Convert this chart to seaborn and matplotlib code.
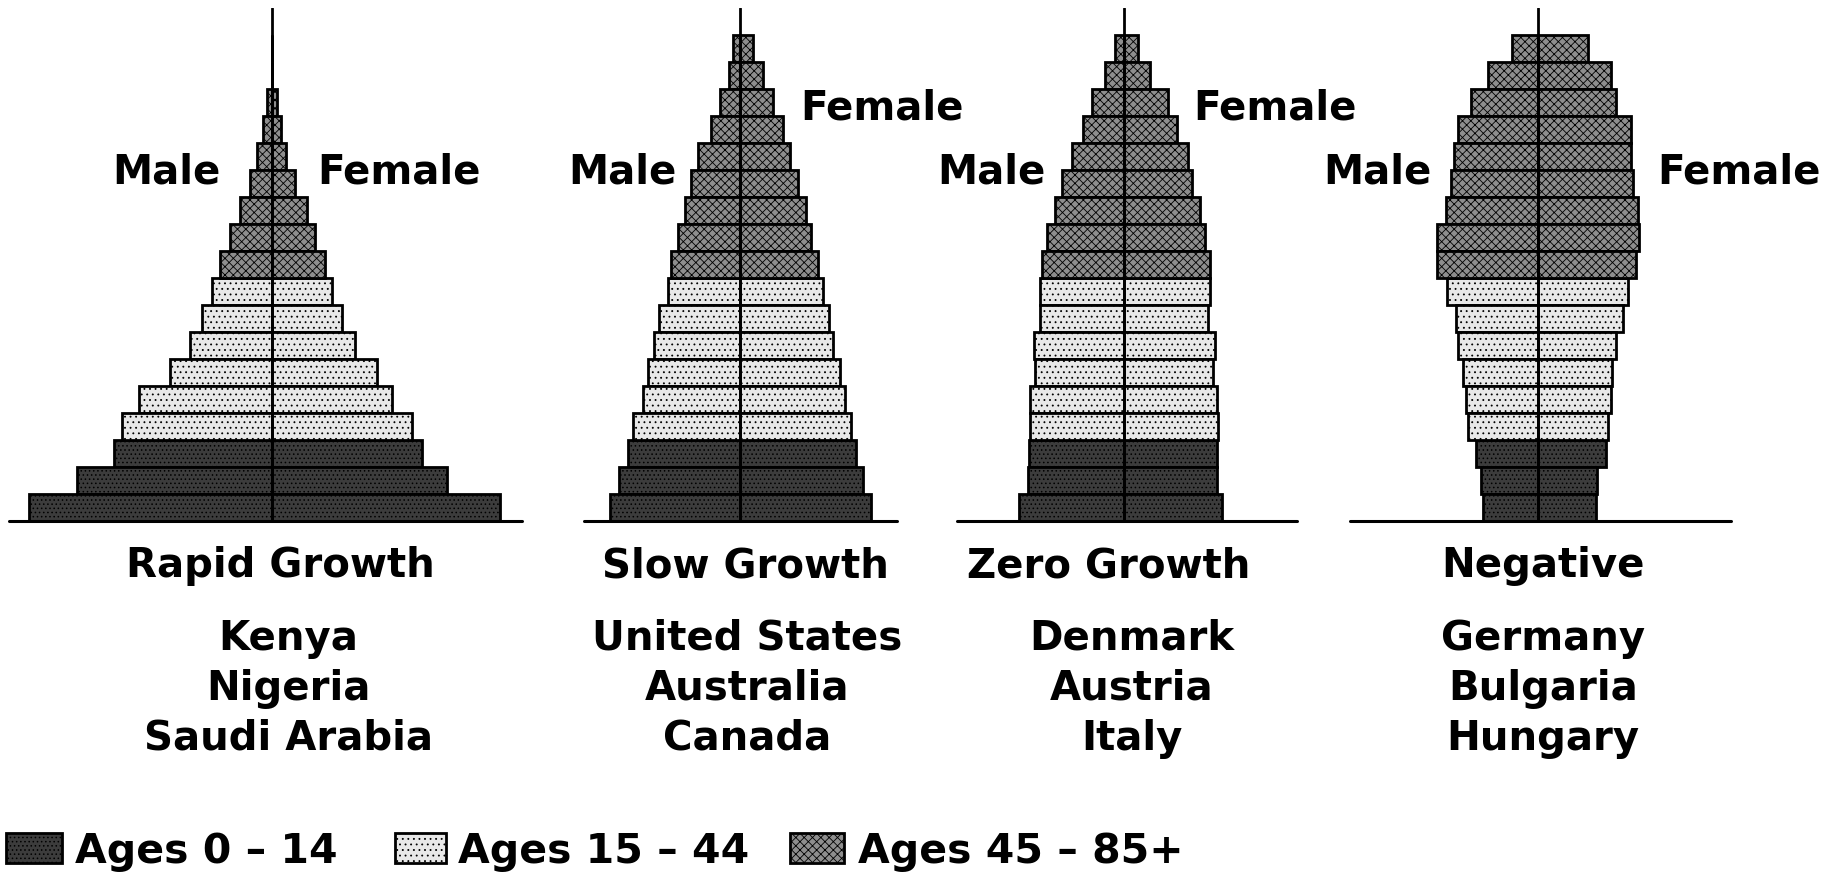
import pandas as pd
import seaborn as sns
import matplotlib.pyplot as plt
from matplotlib.patches import Rectangle

sns.set_theme(style="white")
plt.rcParams['font.family'] = ['DejaVu Sans']
plt.rcParams['text.color'] = 'black'
plt.rcParams['hatch.linewidth'] = 0.6

# age groups, bottom (0-4) to top (85+)
ages = ['0-4', '5-9', '10-14', '15-19', '20-24', '25-29', '30-34', '35-39', '40-44',
        '45-49', '50-54', '55-59', '60-64', '65-69', '70-74', '75-79', '80-84', '85+']
groups = ['Ages 0 – 14'] * 3 + ['Ages 15 – 44'] * 6 + ['Ages 45 – 85+'] * 9

# share of population per sex (%)
rapid_male = [9.7, 7.8, 6.3, 6.0, 5.3, 4.1, 3.3, 2.8, 2.4, 2.1, 1.7, 1.3, 0.9, 0.6, 0.35, 0.2, 0, 0]
rapid_female = [9.1, 7.0, 6.0, 5.6, 4.8, 4.2, 3.3, 2.8, 2.4, 2.1, 1.7, 1.4, 0.9, 0.55, 0.35, 0.2, 0, 0]
slow_male = [5.2, 4.85, 4.5, 4.3, 3.9, 3.7, 3.45, 3.25, 2.9, 2.75, 2.5, 2.2, 1.95, 1.7, 1.15, 0.8, 0.45, 0.3]
slow_female = [5.25, 4.9, 4.65, 4.45, 4.2, 4.0, 3.7, 3.55, 3.3, 3.1, 2.85, 2.65, 2.3, 2.0, 1.7, 1.3, 0.9, 0.5]
zero_male = [4.2, 3.85, 3.8, 3.75, 3.75, 3.55, 3.6, 3.35, 3.35, 3.3, 3.1, 2.75, 2.5, 2.1, 1.65, 1.3, 0.75, 0.35]
zero_female = [3.9, 3.7, 3.7, 3.75, 3.7, 3.55, 3.65, 3.35, 3.45, 3.45, 3.25, 3.05, 2.7, 2.55, 2.1, 1.75, 1.05, 0.55]
neg_male = [2.2, 2.3, 2.5, 2.8, 2.9, 3.0, 3.2, 3.3, 3.65, 4.05, 4.05, 3.7, 3.5, 3.35, 3.2, 2.7, 2.0, 1.05]
neg_female = [2.3, 2.35, 2.7, 2.8, 2.9, 2.95, 3.1, 3.4, 3.6, 3.9, 4.05, 4.0, 3.8, 3.7, 3.7, 3.1, 2.9, 2.0]

titles = ['Rapid Growth', 'Slow Growth', 'Zero Growth', 'Negative']
countries = [['Kenya', 'Nigeria', 'Saudi Arabia'],
             ['United States', 'Australia', 'Canada'],
             ['Denmark', 'Austria', 'Italy'],
             ['Germany', 'Bulgaria', 'Hungary']]
legend_labels = ['Ages 0 – 14', 'Ages 15 – 44', 'Ages 45 – 85+']

colors = {'Ages 0 – 14': '#3c3c3c', 'Ages 15 – 44': '#e8e8e8', 'Ages 45 – 85+': '#8e8e8e'}
hatches = {'Ages 0 – 14': '....', 'Ages 15 – 44': '...', 'Ages 45 – 85+': 'xxxx'}

# layout in pixels (figure is 1836 x 882)
W, H = 1836, 882
PX = 25.0  # pixels per percent
centers = [272, 740, 1124, 1538]
extents = [(263, 250), (156, 157), (167, 173), (188, 193)]
top, base = 8, 521
male_pos = [(166, 184), (622, 184), (991, 184), (1377, 184)]
female_pos = [(399, 184), (882, 119), (1275, 119), (1739, 184)]
title_x = [280, 745, 1109, 1543]
country_x = [288, 747, 1132, 1543]

fig = plt.figure(figsize=(W / 100, H / 100), dpi=100)


def fx(x):
    return x / W


def fy(y):
    return 1 - y / H


data = [(rapid_male, rapid_female), (slow_male, slow_female),
        (zero_male, zero_female), (neg_male, neg_female)]

for i, (male, female) in enumerate(data):
    left, right = extents[i]
    ax = fig.add_axes([fx(centers[i] - left), fy(base), (left + right) / W, (base - top) / H])
    df = pd.DataFrame({'age': ages, 'group': groups,
                       'male': [-v for v in male], 'female': female})
    for col in ['male', 'female']:
        sns.barplot(data=df, x=col, y='age', hue='group', palette=colors, order=ages[::-1],
                    hue_order=legend_labels, dodge=False, width=1.0, errorbar=None,
                    edgecolor='black', linewidth=2, legend=False, ax=ax)
    # stipple / crosshatch texture like the printed original
    for p in ax.patches:
        fc = p.get_facecolor()
        for g, c in colors.items():
            if abs(fc[0] - int(c[1:3], 16) / 255) < 0.01:
                p.set_hatch(hatches[g])
    ax.set_xlim(-left / PX, right / PX)
    ax.set_ylim(17.5, -1.5)
    ax.axvline(0, color='black', lw=2, zorder=5)
    ax.axhline(17.5, color='black', lw=2.2, clip_on=False, zorder=5)
    ax.axis('off')

    fig.text(fx(male_pos[i][0]), fy(male_pos[i][1]), 'Male', ha='center', va='baseline',
             fontsize=29, fontweight='bold')
    fig.text(fx(female_pos[i][0]), fy(female_pos[i][1]), 'Female', ha='center', va='baseline',
             fontsize=29, fontweight='bold')
    fig.text(fx(title_x[i]), fy(577), titles[i], ha='center', va='baseline',
             fontsize=29, fontweight='bold')
    for j, name in enumerate(countries[i]):
        fig.text(fx(country_x[i]), fy(650 + 50 * j), name, ha='center', va='baseline',
                 fontsize=29, fontweight='bold')

# legend drawn by hand
box_x = [(6, 62), (395, 446), (790, 844)]
text_x = [75, 458, 858]
for k, lab in enumerate(legend_labels):
    x0, x1 = box_x[k]
    fig.add_artist(Rectangle((fx(x0), fy(863)), (x1 - x0) / W, 30 / H, transform=fig.transFigure,
                             facecolor=colors[lab], edgecolor='black', lw=2, hatch=hatches[lab]))
    fig.text(fx(text_x[k]), fy(863), lab, ha='left', va='baseline', fontsize=29.5, fontweight='bold')

fig.savefig('out.png', dpi=100)
